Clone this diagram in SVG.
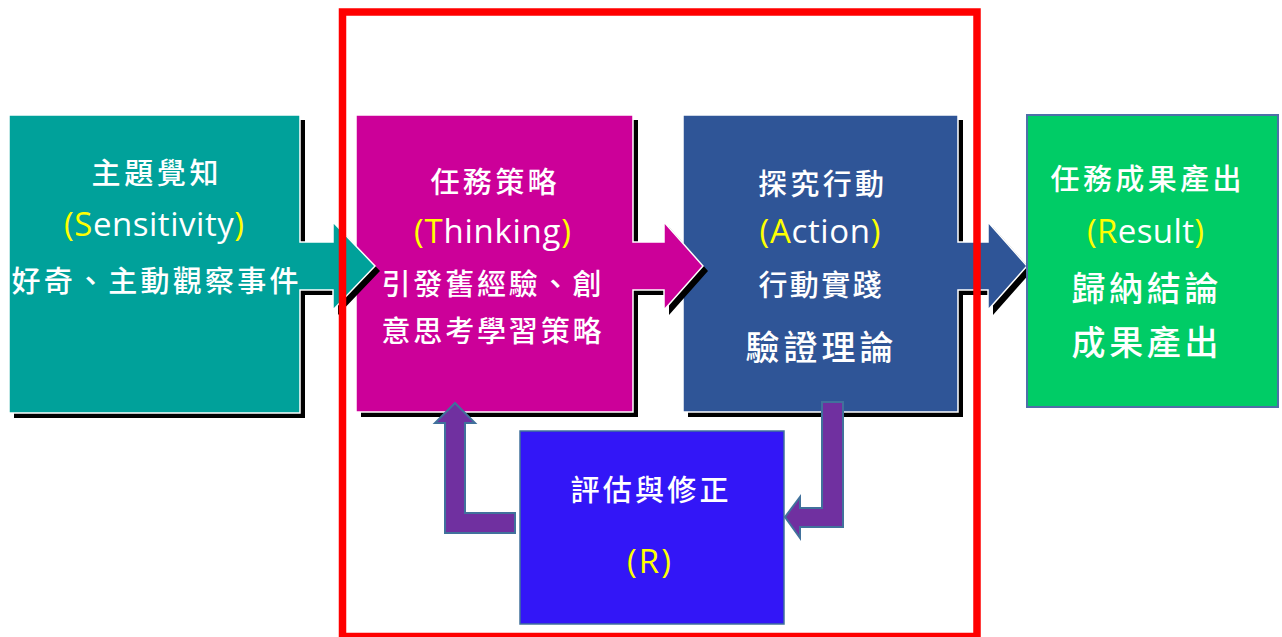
<svg xmlns="http://www.w3.org/2000/svg" width="1282" height="637" viewBox="0 0 1282 637">
<style>
.t{font-family:"Open Sans","Noto Sans CJK TC",sans-serif;fill:#FFFFFF;text-anchor:middle}
.c{font-size:29px;font-weight:500}
.cb{font-size:34px;font-weight:500}
.l{font-size:33px}
.y{fill:#FFFF00}
.shadow{fill:#000000}
.main{stroke:#FFFFFF;stroke-width:1.5}
.loop{fill:#7030A0;stroke:#41719C;stroke-width:2;stroke-linejoin:miter}
</style>
<rect width="1282" height="637" fill="#FFFFFF"/>

<g id="node-action">
<path class="shadow" transform="translate(5,5)" d="M683,115 H958 V242 H988 V222 L1027,266 L988,310 V290 H958 V412 H683 Z"/>
<path class="main" fill="#2F5597" d="M683,115 H958 V242 H988 V222 L1027,266 L988,310 V290 H958 V412 H683 Z"/>
<text class="t c" x="821" y="195" textLength="126" lengthAdjust="spacing">探究行動</text>
<text class="t l" x="820" y="243" textLength="121" lengthAdjust="spacing"><tspan class="y">(A</tspan>ction<tspan class="y">)</tspan></text>
<text class="t c" x="820" y="296" textLength="123" lengthAdjust="spacing">行動實踐</text>
<text class="t cb" x="819.5" y="360" textLength="148" lengthAdjust="spacing">驗證理論</text>
</g>

<g id="node-result">
<rect x="1027" y="115" width="251" height="292" fill="#00CC66" stroke="#4E6FA8" stroke-width="2"/>
<text class="t c" x="1146" y="190" textLength="191" lengthAdjust="spacing">任務成果產出</text>
<text class="t l" x="1145.5" y="243" textLength="117" lengthAdjust="spacing"><tspan class="y">(R</tspan>esult<tspan class="y">)</tspan></text>
<text class="t cb" x="1145" y="301" textLength="147" lengthAdjust="spacing">歸納結論</text>
<text class="t cb" x="1145" y="355" textLength="147" lengthAdjust="spacing">成果產出</text>
</g>

<g id="node-thinking">
<path class="shadow" transform="translate(5,5)" d="M356,115 H633 V242 H664 V222 L703,266 L664,310 V290 H633 V412 H356 Z"/>
<path class="main" fill="#CC0099" d="M356,115 H633 V242 H664 V222 L703,266 L664,310 V290 H633 V412 H356 Z"/>
<text class="t c" x="493.5" y="193" textLength="126" lengthAdjust="spacing">任務策略</text>
<text class="t l" x="492.5" y="243" textLength="157" lengthAdjust="spacing"><tspan class="y">(T</tspan>hinking<tspan class="y">)</tspan></text>
<text class="t c" x="491.5" y="295" textLength="220" lengthAdjust="spacing">引發舊經驗、創</text>
<text class="t c" x="491.5" y="342" textLength="220" lengthAdjust="spacing">意思考學習策略</text>
</g>

<g id="node-sensitivity">
<path class="shadow" transform="translate(5,5)" d="M9,115 H300 V242 H333 V222 L375,266 L333,310 V290 H300 V413 H9 Z"/>
<path class="main" fill="#00A19A" d="M9,115 H300 V242 H333 V222 L375,266 L333,310 V290 H300 V413 H9 Z"/>
<text class="t c" x="155" y="184" textLength="127" lengthAdjust="spacing">主題覺知</text>
<text class="t l" x="154" y="236" textLength="180" lengthAdjust="spacing"><tspan class="y">(S</tspan>ensitivity<tspan class="y">)</tspan></text>
<text class="t c" x="155" y="292" textLength="287" lengthAdjust="spacing">好奇、主動觀察事件</text>
</g>

<g id="node-review">
<rect x="520" y="431" width="264" height="193" fill="#3316F7" stroke="#41719C" stroke-width="1.5"/>
<text class="t c" x="649.5" y="501" textLength="158" lengthAdjust="spacing">評估與修正</text>
<text class="t l" x="649" y="573" textLength="44" lengthAdjust="spacing"><tspan class="y">(R)</tspan></text>
</g>

<g id="connectors">
<polygon class="loop" points="455,403 475,423 465,423 465,513 515,513 515,533 445,533 445,423 435,423"/>
<polygon class="loop" points="822,402 843,402 843,527 800,527 800,538 785,517 800,497 800,508 822,508"/>
</g>

<g id="frame">
<rect x="342.5" y="12" width="634.5" height="624.5" fill="none" stroke="#FF0000" stroke-width="7.5"/>
</g>
</svg>
